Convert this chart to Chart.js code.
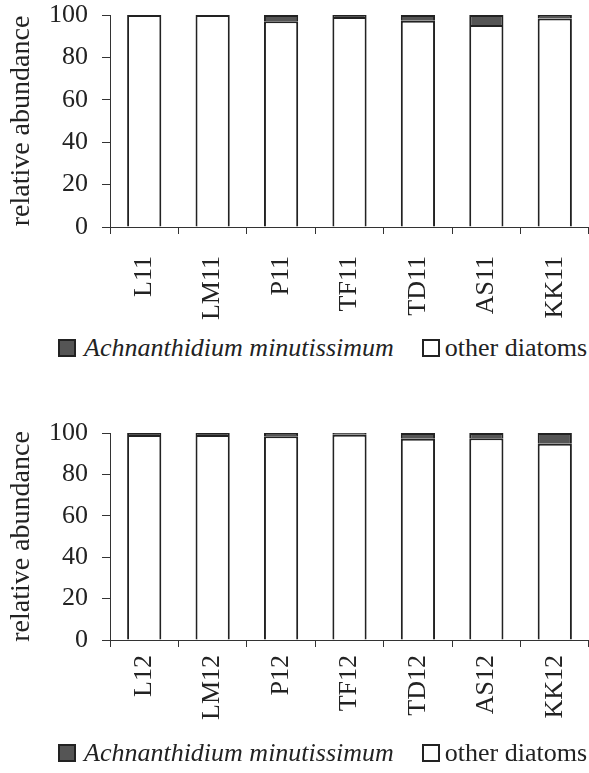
<!DOCTYPE html>
<html>
<head>
<meta charset="utf-8">
<script src="https://cdn.jsdelivr.net/npm/chart.js@4"></script>
<style>
  body { margin: 0; background: #fff; }
  #wrap { position: relative; width: 589px; height: 773px; font-family: "Liberation Serif", "Times New Roman", serif; color: #222; }
  .box { position: absolute; left: 0; width: 589px; height: 330px; }
  .legend { position: absolute; left: 58px; height: 30px; font-size: 26px; white-space: nowrap; display: flex; align-items: center; }
  .sw { display: inline-block; width: 18px; height: 18px; border: 2px solid #222; box-sizing: border-box; margin-right: 8px; }
  .gap { width: 28px; display: inline-block; }
</style>
</head>
<body>
<div id="wrap">
  <div class="box" style="top:0;"><canvas id="chart11"></canvas></div>
  <div class="legend" style="top:333px;"><span class="sw" style="background:#555;"></span><i>Achnanthidium minutissimum</i><span class="gap"></span><span class="sw" style="background:#fff; margin-right:5px;"></span>other diatoms</div>
  <div class="box" style="top:418px;"><canvas id="chart12"></canvas></div>
  <div class="legend" style="top:738px;"><span class="sw" style="background:#555;"></span><i>Achnanthidium minutissimum</i><span class="gap"></span><span class="sw" style="background:#fff; margin-right:5px;"></span>other diatoms</div>
</div>
<script>
const sites2011 = ['L11', 'LM11', 'P11', 'TF11', 'TD11', 'AS11', 'KK11'];
const achnanthidium2011 = [0, 0, 3, 1, 2.7, 4.7, 1.6];
const others2011 = [100, 100, 97, 99, 97.3, 95.3, 98.4];

const sites2012 = ['L12', 'LM12', 'P12', 'TF12', 'TD12', 'AS12', 'KK12'];
const achnanthidium2012 = [1, 1, 1.6, 0.8, 2.8, 2.5, 5.2];
const others2012 = [99, 99, 98.4, 99.2, 97.2, 97.5, 94.8];

const yTicks = [0, 20, 40, 60, 80, 100];

const serif = '"Liberation Serif", "Times New Roman", serif';
const axisColor = '#333';

function makeChart(id, labels, amin, other, xHeight, labelPad) {
  const ctx = document.getElementById(id);
  return new Chart(ctx, {
    type: 'bar',
    data: {
      labels: labels,
      datasets: [
        {
          label: 'other diatoms',
          data: other,
          backgroundColor: '#ffffff',
          borderColor: '#222',
          borderWidth: 2,
          barPercentage: 0.5,
          categoryPercentage: 1,
        },
        {
          label: 'Achnanthidium minutissimum',
          data: amin,
          backgroundColor: '#555555',
          borderColor: '#222',
          borderWidth: 2,
          barPercentage: 0.5,
          categoryPercentage: 1,
        }
      ]
    },
    options: {
      responsive: true,
      maintainAspectRatio: false,
      animation: false,
      layout: { padding: { top: 15, right: 0, left: 0, bottom: 0 } },
      plugins: {
        legend: { display: false },
        tooltip: { enabled: false }
      },
      scales: {
        x: {
          stacked: true,
          afterFit: (axis) => {
            axis.height = xHeight;
            axis.paddingLeft = 0;
            axis.paddingRight = 0;
          },
          grid: {
            offset: true,
            drawOnChartArea: false,
            tickLength: 7,
            color: axisColor,
          },
          border: { color: axisColor, width: 1 },
          ticks: {
            minRotation: 90,
            maxRotation: 90,
            autoSkip: false,
            color: '#222',
            padding: labelPad,
            font: { family: serif, size: 26 }
          }
        },
        y: {
          stacked: true,
          min: 0,
          max: 100,
          afterBuildTicks: (axis) => { axis.ticks = yTicks.map(v => ({ value: v })); },
          afterFit: (axis) => {
            axis.width = 110;
            axis.paddingTop = 0;
            axis.paddingBottom = 0;
          },
          grid: {
            drawOnChartArea: false,
            tickLength: 8,
            color: axisColor,
          },
          border: { color: axisColor, width: 1 },
          title: {
            display: true,
            text: 'relative abundance',
            color: '#222',
            padding: { top: 5, bottom: 0 },
            font: { family: serif, size: 28 }
          },
          ticks: {
            color: '#222',
            padding: 14,
            font: { family: serif, size: 26 }
          }
        }
      }
    }
  });
}

makeChart('chart11', sites2011, achnanthidium2011, others2011, 103, 22);
makeChart('chart12', sites2012, achnanthidium2012, others2012, 108, 8);
</script>
</body>
</html>
